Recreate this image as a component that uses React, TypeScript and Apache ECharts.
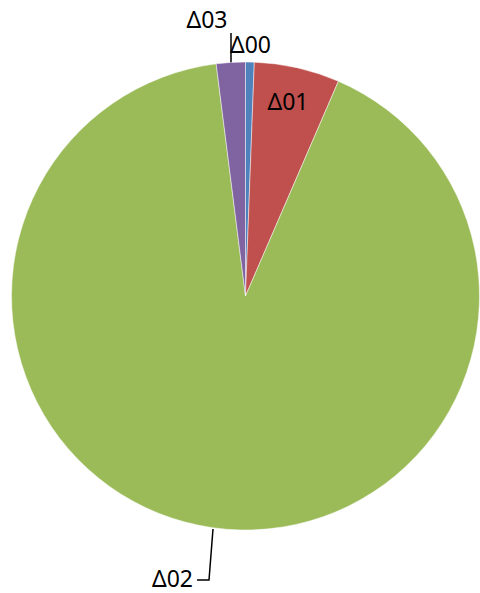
import React, { useEffect, useRef } from "react";
import * as echarts from "echarts";

const categories = ["Δ00", "Δ01", "Δ02", "Δ03"];
const values = [0.6, 5.9, 91.5, 2.0];
const colors = ["#4F81BD", "#C0504D", "#9BBB59", "#8064A2"];

export default function App() {
  const ref = useRef<HTMLDivElement>(null);
  useEffect(() => {
    document.body.style.margin = "0";
    const chart = echarts.init(ref.current!, null, { renderer: "svg" });
    const labelPos: Record<number, any> = {
      0: { x: 230, y: 44, align: "left" },
      1: { x: 288, y: 101, align: "center" },
      2: { x: 193, y: 578, align: "right", line: [[213, 529], [209, 580], [197, 580]] },
      3: { x: 207, y: 19, align: "center", line: [[231, 65], [231, 33], [231, 33]] },
    };
    chart.setOption({
      animation: false,
      backgroundColor: "#ffffff",
      series: [
        {
          type: "pie",
          center: [245.5, 296],
          radius: 234,
          startAngle: 90,
          clockwise: true,
          data: categories.map((c, i) => ({
            name: c,
            value: values[i],
            itemStyle: { color: colors[i] },
            labelLine: { show: !!labelPos[i].line },
          })),
          itemStyle: { borderColor: "rgba(255,255,255,0.6)", borderWidth: 0.8 },
          label: {
            show: true,
            position: "outside",
            formatter: "{b}",
            fontFamily: "Noto Sans",
            fontSize: 23,
            lineHeight: 26,
            color: "#000000",
          },
          labelLine: {
            show: true,
            lineStyle: { color: "#000000", width: 1.5 },
          },
          labelLayout: (params: any) => {
            const p = labelPos[params.dataIndex];
            const out: any = {
              x: p.x,
              y: p.y,
              align: p.align,
              verticalAlign: "middle",
            };
            if (p.line) out.labelLinePoints = p.line;
            return out;
          },
        },
      ],
    });
    return () => chart.dispose();
  }, []);
  return <div ref={ref} style={{ width: 480, height: 593 }} />;
}
